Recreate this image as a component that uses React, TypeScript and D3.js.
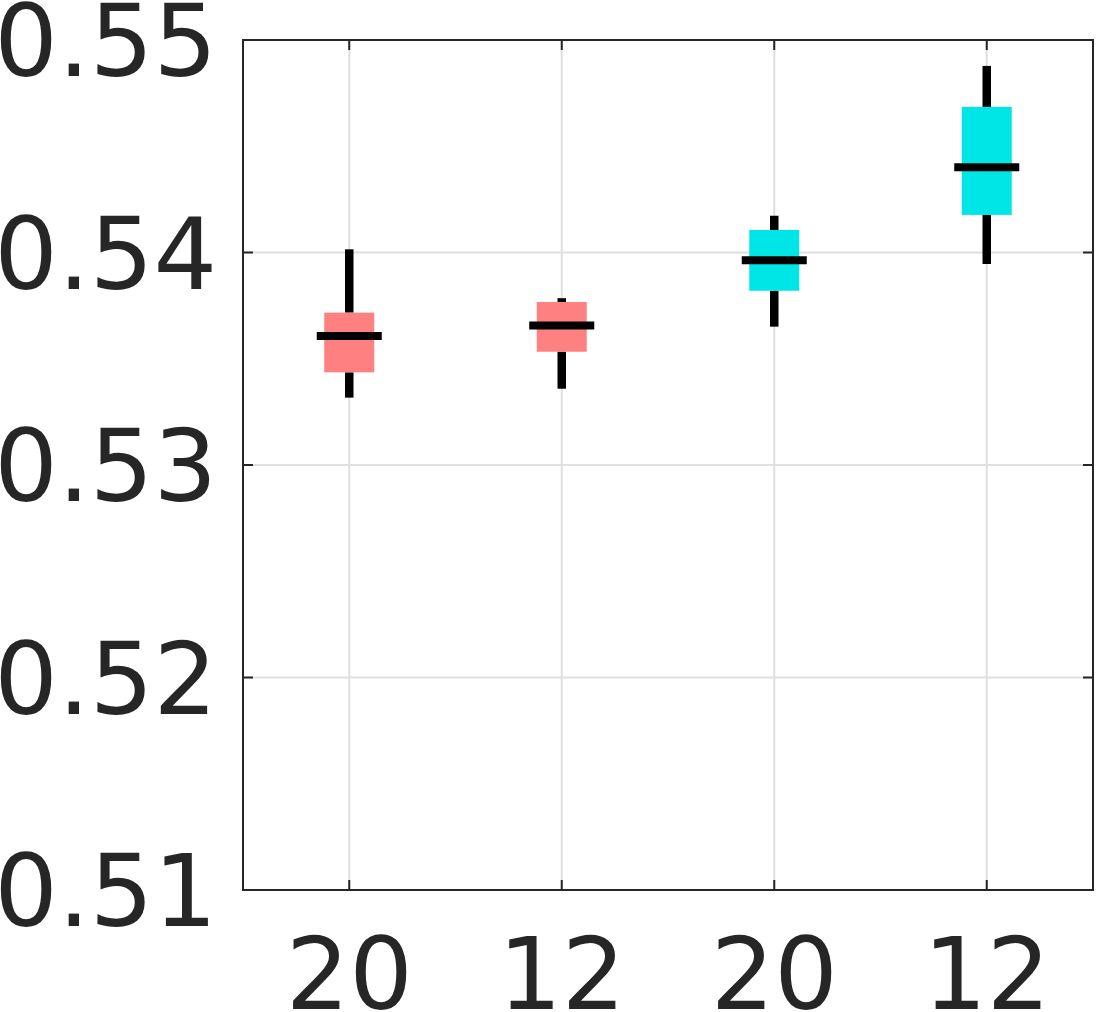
import React from "react";
import * as d3 from "d3";

const categories = ["20", "12", "20", "12"];
const groupColors = ["#FF8080", "#FF8080", "#00E5E5", "#00E5E5"];
const whiskerLow = [0.53317, 0.53359, 0.53651, 0.53946];
const q1 = [0.53436, 0.53533, 0.5382, 0.54177];
const medians = [0.53607, 0.53657, 0.53964, 0.54401];
const q3 = [0.53717, 0.53767, 0.54106, 0.54685];
const whiskerHigh = [0.54015, 0.53785, 0.54173, 0.54878];
const yTicks = [0.51, 0.52, 0.53, 0.54, 0.55];

const W = 1096;
const H = 1012;
const left = 243;
const right = 1093;
const top = 40;
const bottom = 890;
const ink = "#262626";

export default function App() {
  const x = d3
    .scaleBand<number>()
    .domain(d3.range(categories.length))
    .range([left, right]);
  const y = d3.scaleLinear().domain([0.51, 0.55]).range([bottom, top]);
  const cx = (i: number) => (x(i) as number) + x.bandwidth() / 2;

  const boxW = 50;
  const medW = 65;
  const tick = 10;

  return (
    <svg
      width={W}
      height={H}
      style={{ position: "absolute", left: 0, top: 0 }}
      fontFamily="DejaVu Sans"
    >
      <rect x={0} y={0} width={W} height={H} fill="#fff" />
      {/* grid */}
      {yTicks.map((t) => (
        <line key={"gy" + t} x1={left} x2={right} y1={y(t)} y2={y(t)} stroke="#dfdfdf" strokeWidth={2} />
      ))}
      {categories.map((_, i) => (
        <line key={"gx" + i} x1={cx(i)} x2={cx(i)} y1={top} y2={bottom} stroke="#dfdfdf" strokeWidth={2} />
      ))}
      {/* boxes */}
      {categories.map((_, i) => (
        <g key={"b" + i}>
          <line x1={cx(i)} x2={cx(i)} y1={y(whiskerHigh[i])} y2={y(q3[i])} stroke="#000" strokeWidth={8.5} />
          <line x1={cx(i)} x2={cx(i)} y1={y(q1[i])} y2={y(whiskerLow[i])} stroke="#000" strokeWidth={8.5} />
          <rect
            x={cx(i) - boxW / 2}
            width={boxW}
            y={y(q3[i])}
            height={y(q1[i]) - y(q3[i])}
            fill={groupColors[i]}
          />
          <line
            x1={cx(i) - medW / 2}
            x2={cx(i) + medW / 2}
            y1={y(medians[i])}
            y2={y(medians[i])}
            stroke="#000"
            strokeWidth={8}
          />
        </g>
      ))}
      {/* ticks */}
      {yTicks.map((t) => (
        <g key={"ty" + t}>
          <line x1={left} x2={left + tick} y1={y(t)} y2={y(t)} stroke={ink} strokeWidth={2} />
          <line x1={right - tick} x2={right} y1={y(t)} y2={y(t)} stroke={ink} strokeWidth={2} />
          <text x={217} y={y(t)} dy="0.36em" textAnchor="end" fontSize={100} fill={ink}>
            {t.toFixed(2)}
          </text>
        </g>
      ))}
      {categories.map((c, i) => (
        <g key={"tx" + i}>
          <line x1={cx(i)} x2={cx(i)} y1={bottom} y2={bottom - tick} stroke={ink} strokeWidth={2} />
          <line x1={cx(i)} x2={cx(i)} y1={top} y2={top + tick} stroke={ink} strokeWidth={2} />
          <text x={cx(i)} y={1009} textAnchor="middle" fontSize={100} fill={ink}>
            {c}
          </text>
        </g>
      ))}
      <rect x={left} y={top} width={right - left} height={bottom - top} fill="none" stroke={ink} strokeWidth={2} />
    </svg>
  );
}
